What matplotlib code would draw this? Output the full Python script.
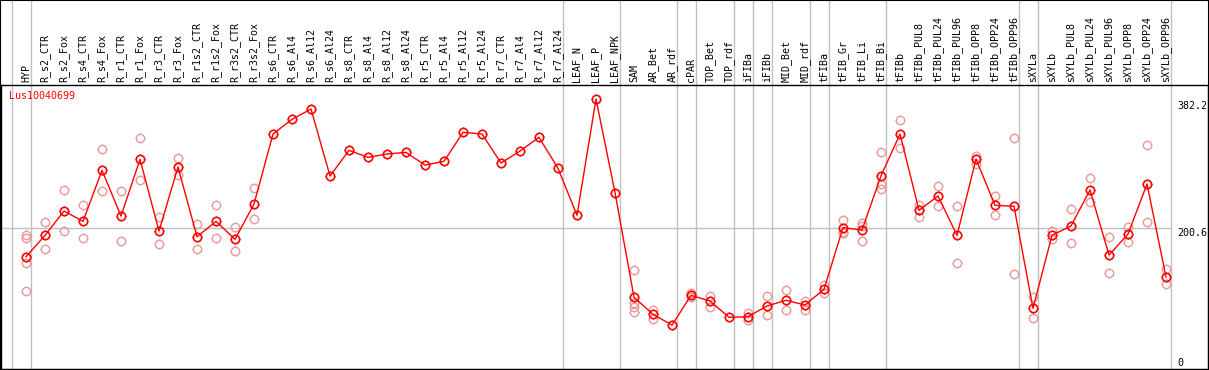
import matplotlib
matplotlib.use('Agg')
import matplotlib.pyplot as plt
from matplotlib.path import Path
from matplotlib.patches import Rectangle

# Echantillons (etiquettes du haut)
samples = ['HYP', 'R_s2_CTR', 'R_s2_Fox', 'R_s4_CTR', 'R_s4_Fox', 'R_r1_CTR', 'R_r1_Fox',
           'R_r3_CTR', 'R_r3_Fox', 'R_r1s2_CTR', 'R_r1s2_Fox', 'R_r3s2_CTR', 'R_r3s2_Fox',
           'R_s6_CTR', 'R_s6_Al4', 'R_s6_Al12', 'R_s6_Al24',
           'R_s8_CTR', 'R_s8_Al4', 'R_s8_Al12', 'R_s8_Al24',
           'R_r5_CTR', 'R_r5_Al4', 'R_r5_Al12', 'R_r5_Al24',
           'R_r7_CTR', 'R_r7_Al4', 'R_r7_Al12', 'R_r7_Al24',
           'LEAF_N', 'LEAF_P', 'LEAF_NPK', 'SAM', 'AR_Bet', 'AR_rdf', 'cPAR',
           'TOP_Bet', 'TOP_rdf', 'iFIBa', 'iFIBb', 'MID_Bet', 'MID_rdf',
           'tFIBa', 'tFIB_Gr', 'tFIB_Li', 'tFIB_Bi', 'tFIBb',
           'tFIBb_PUL8', 'tFIBb_PUL24', 'tFIBb_PUL96', 'tFIBb_OPP8', 'tFIBb_OPP24', 'tFIBb_OPP96',
           'sXYLa', 'sXYLb', 'sXYLb_PUL8', 'sXYLb_PUL24', 'sXYLb_PUL96',
           'sXYLb_OPP8', 'sXYLb_OPP24', 'sXYLb_OPP96']

# moyennes
means = [159.6, 190.0, 224.9, 210.1, 283.0, 217.7, 298.6, 196.3, 287.7, 188.2, 210.1, 184.4, 234.9,
         334.8, 355.8, 370.5, 274.8,
         311.5, 301.5, 306.3, 308.6,
         290.5, 295.8, 337.2, 334.8,
         293.4, 310.5, 330.1, 285.8,
         218.7, 384.8, 251.2,
         101.7, 77.4, 62.0, 104.5, 96.4, 73.1, 74.0, 89.2, 97.4, 90.7,
         113.1, 201.2, 197.7, 275.1,
         334.8, 225.9, 246.3, 190.2, 299.0, 233.0, 231.6,
         85.9, 190.2, 203.5, 254.9, 162.0, 192.0, 263.4, 130.6]

# replicats
reps = [[190, 187, 150, 111], [208.7, 170.6], [254.9, 196.3], [233, 185.9], [313, 253.4],
        [253.4, 181.6], [328.6, 269.1], [216.3, 177.8], [300, 276.3], [205.9, 170.6],
        [233, 185.9], [201.6, 167.3], [257.3, 213],
        [], [], [], [], [], [], [], [], [], [], [], [], [], [], [], [],
        [], [], [],
        [140.2, 93.1, 88.3, 80.3], [83.5, 70.7], [], [107.4, 102.5], [104, 88.3], [],
        [79.7, 69.2], [103.5, 75.9], [111.7, 83.1], [96.8, 83.1],
        [119.2, 107.4], [212.2, 195.3, 194], [208.1, 203, 181.6], [308.6, 263.4, 256.7],
        [354.6, 314.7], [233.9, 216.7], [260.1, 231.6], [231.6, 150.2], [303.9, 292],
        [246.3, 219.6], [328.6, 134.5],
        [102.5, 71.7], [196.7, 184.9], [227.3, 179.3], [271.6, 237.3], [187.3, 136.5],
        [202, 180], [318.6, 208.7], [142, 120.2]]

# dernier echantillon de chaque groupe (separateurs verticaux)
group_ends = [-1, 0, 28, 31, 34, 35, 37, 38, 39, 41, 42, 45, 52, 53, 60]
y_marks = [0, 200.6, 382.2]
gene = 'Lus10040699'

mono = 'DejaVu Sans Mono'

# petits traits autour du cercle
t = 1.3
ticks = Path([[1, 0], [t, 0], [-1, 0], [-t, 0], [0, 1], [0, t], [0, -1], [0, -t]],
             [Path.MOVETO, Path.LINETO] * 4)
ms_circle = 6.0
ms_ticks = ms_circle * t


def draw_marks(xs, ys, color, lw, z):
    ax.plot(xs, ys, linestyle='none', marker='o', markersize=ms_circle,
            markerfacecolor='none', markeredgecolor=color, markeredgewidth=lw, zorder=z)
    ax.plot(xs, ys, linestyle='none', marker=ticks, markersize=ms_ticks,
            markerfacecolor='none', markeredgecolor=color, markeredgewidth=lw * 0.7, zorder=z)


fig = plt.figure(figsize=(12.09, 3.70), dpi=100)
ax = fig.add_axes([1 / 1209, 1 / 370, 1207 / 1209, 284 / 370])

x = list(range(len(samples)))

# separateurs
for g in group_ends:
    ax.axvline(g + 0.25, ymin=0, ymax=369 / 284, color='#c0c0c0', lw=1.0,
               clip_on=False, zorder=0)
ax.hlines(200.6, -1.4, 60.25, color='#c0c0c0', lw=1.0, zorder=0)

# replicats
for i, r in enumerate(reps):
    if r:
        draw_marks([i] * len(r), r, '#eb9898', 1.0, 2)

ax.plot(x, means, color='red', lw=1.0, zorder=3)
draw_marks(x, means, 'red', 1.2, 4)

ax.set_xlim(-1.316, 62.21)
ax.set_ylim(-0.7, 404.8)

ax.set_xticks(x)
ax.set_xticklabels(samples, rotation=90, fontfamily=mono, fontsize=7.2)
ax.tick_params(axis='x', length=0, pad=2, top=True, bottom=False,
               labeltop=True, labelbottom=False)
ax.set_yticks([])

# valeurs a droite
ax.text(60.58, y_marks[2], '382.2', fontfamily=mono, fontsize=7.2, ha='left', va='top')
ax.text(60.58, y_marks[1], '200.6', fontfamily=mono, fontsize=7.2, ha='left', va='top')
ax.text(60.58, 4, '0', fontfamily=mono, fontsize=7.2, ha='left', va='baseline')

ax.text(-0.9, 396, gene, color='red', fontfamily=mono, fontsize=7.2, ha='left', va='top')

for s in ax.spines.values():
    s.set_color('black')
    s.set_linewidth(1.0)

fig.add_artist(Rectangle((0, 0), 1, 1, transform=fig.transFigure, fill=False,
                         edgecolor='black', lw=1.5))

plt.savefig('out.png', dpi=100)
